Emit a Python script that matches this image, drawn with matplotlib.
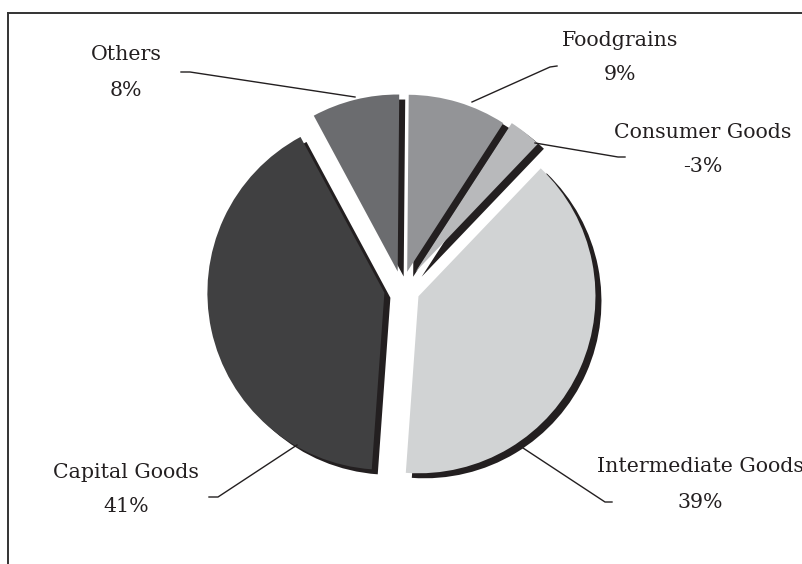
import matplotlib.pyplot as plt

# Share of each import group (%), clockwise from the top
groups = ["Foodgrains", "Consumer Goods", "Intermediate Goods", "Capital Goods", "Others"]
shares = [9, -3, 39, 41, 8]
slice_colors = ["#939497", "#b8b9bb", "#d1d3d4", "#404041", "#6b6c6f"]

W, H = 802, 564
INK = "#231f20"


def flip(y):
    # work in pixel-like coordinates measured from the top edge
    return H - y


fig = plt.figure(figsize=(W / 100, H / 100), dpi=100)
ax = fig.add_axes([0, 0, 1, 1])

sizes = [abs(v) for v in shares]
explode = [18, 22, 18, 18, 18]
radius = 177
cx, cy = 402, 289

# solid drop shadow, then the slices on top
ax.pie(sizes, explode=explode, radius=radius, center=(cx + 6, flip(cy + 5)),
       startangle=89.5, counterclock=False, colors=[INK] * len(sizes),
       wedgeprops=dict(linewidth=0))
ax.pie(sizes, explode=explode, radius=radius, center=(cx, flip(cy)),
       startangle=89.5, counterclock=False, colors=slice_colors,
       wedgeprops=dict(linewidth=0))

# label positions (centre of the name line) and leader lines
label_pos = [(620, 40), (703, 132), (700, 467), (126, 472), (126, 55)]
leaders = [
    [(557, 66), (550, 67), (472, 102)],
    [(625, 157), (618, 157), (535, 143)],
    [(612, 502), (605, 502), (523, 448)],
    [(209, 497), (218, 497), (297, 445)],
    [(181, 72), (190, 72), (355, 97)],
]

font = dict(family="DejaVu Serif", fontsize=14.8, color=INK)
for name, val, (lx, ly), pts in zip(groups, shares, label_pos, leaders):
    ax.text(lx, flip(ly), name, ha="center", va="center", **font)
    ax.text(lx, flip(ly + 35), f"{val}%", ha="center", va="center", **font)
    xs = [p[0] for p in pts]
    ys = [flip(p[1]) for p in pts]
    ax.plot(xs, ys, color=INK, lw=1.0)

# frame: only the top and left edges fall inside the canvas
ax.plot([8, W], [flip(13), flip(13)], color="#333333", lw=1.4)
ax.plot([8, 8], [flip(13), 0], color="#333333", lw=1.4)

ax.set_xlim(0, W)
ax.set_ylim(0, H)
ax.set_aspect("equal")
ax.axis("off")

fig.savefig("out.png", dpi=100)
